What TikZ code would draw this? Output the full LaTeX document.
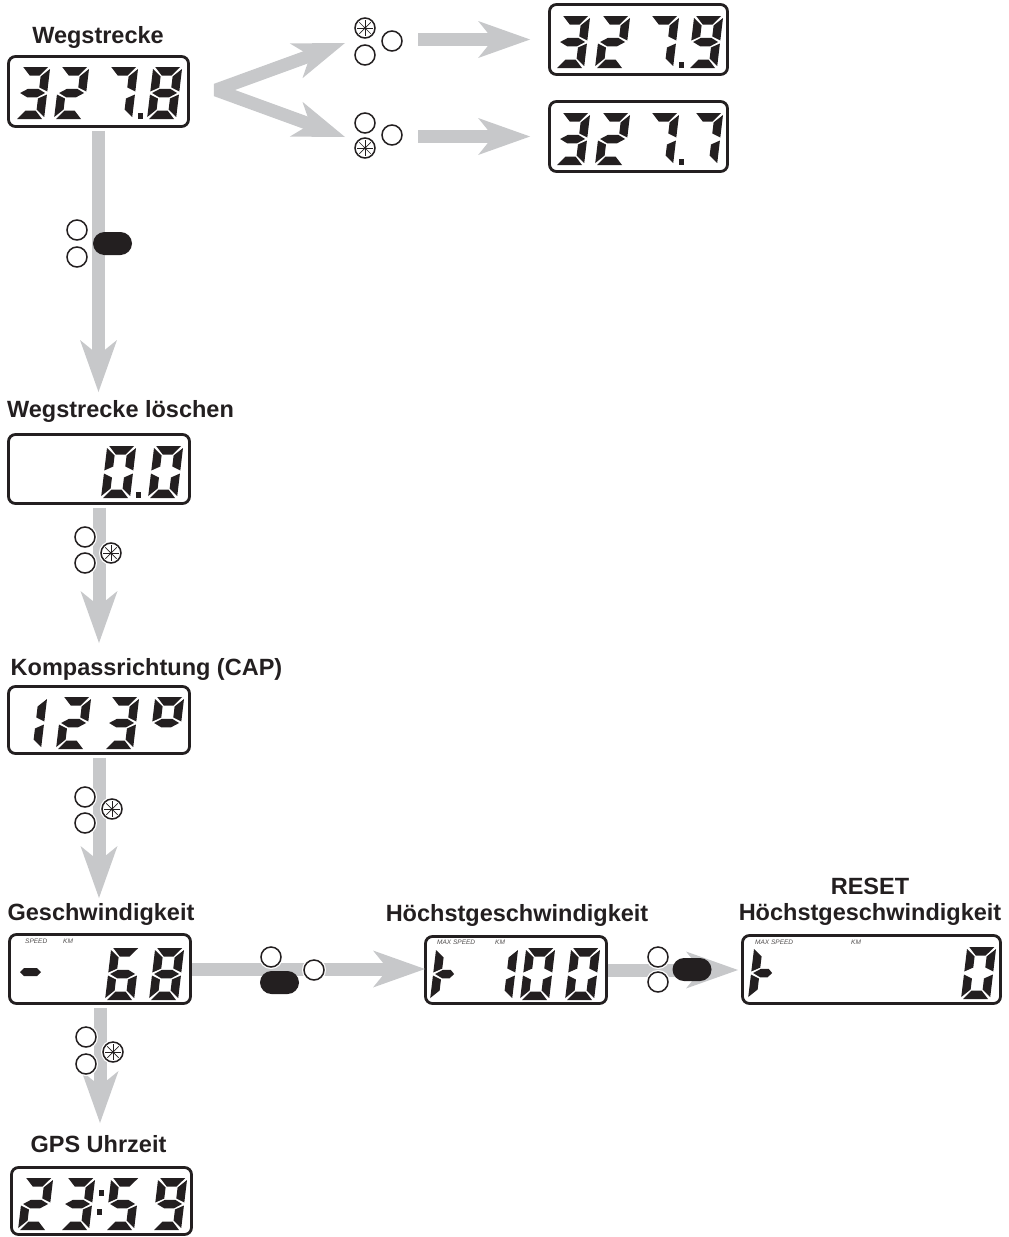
\documentclass[tikz,border=0pt]{standalone}
\usepackage{fontspec}
\setmainfont{Liberation Sans}
\usetikzlibrary{arrows.meta}
\definecolor{ink}{RGB}{35,31,32}
\definecolor{flowgray}{RGB}{199,200,202}
\newcommand{\lcdsega}{(2,52) -- (27,52) -- (19.5,43.5) -- (9.5,43.5) -- cycle}
\newcommand{\lcdsegb}{(29,50) -- (20.5,42.5) -- (20.5,31.5) -- (29,27.5) -- cycle}
\newcommand{\lcdsegc}{(29,24.5) -- (20.5,20.5) -- (20.5,9.5) -- (29,2) -- cycle}
\newcommand{\lcdsegd}{(2,0) -- (27,0) -- (19.5,8.5) -- (9.5,8.5) -- cycle}
\newcommand{\lcdsege}{(0,24.5) -- (8.5,20.5) -- (8.5,9.5) -- (0,2) -- cycle}
\newcommand{\lcdsegf}{(0,50) -- (8.5,42.5) -- (8.5,31.5) -- (0,27.5) -- cycle}
\newcommand{\lcdsegg}{(2,26) -- (9.5,30.25) -- (19.5,30.25) -- (27,26) -- (19.5,21.75) -- (9.5,21.75) -- cycle}
\newcommand{\lcdsegh}{(2,26) -- (9.5,30.25) -- (17,30.25) -- (21,26) -- (17,21.75) -- (9.5,21.75) -- cycle}

\begin{document}
\begin{tikzpicture}[x=1pt,y=-1pt,>={Stealth[length=52pt,width=37pt,inset=15pt,line width=0pt]},
 lcd/.style={draw=ink,line width=2.8pt,rounded corners=7pt,inner sep=0pt},
 lbl/.style={font=\fontsize{23.5}{26}\selectfont\bfseries,text=ink,inner sep=0pt,anchor=base},
 tag/.style={font=\fontsize{6.5}{7}\selectfont\itshape,text=ink!80,inner sep=0pt,anchor=base west},
 flow/.style={draw=flowgray,line width=13pt,->},
 digit/.pic={\begin{scope}[y=1pt,xslant=0.12]\foreach \s in {#1}{\fill[ink] \csname lcdseg\s\endcsname;}\end{scope}},
 ring/.pic={\draw[white,line width=4pt] (0,0) circle (10pt);\draw[ink,line width=1.5pt,fill=white] (0,0) circle (10pt);},
 starring/.pic={\draw[white,line width=4pt] (0,0) circle (10pt);\draw[ink,line width=1.5pt,fill=white] (0,0) circle (10pt);
  \foreach \a in {0,45,90,135}{\draw[ink,line width=0.7pt] (\a:8pt) -- (\a+180:8pt);}\fill[ink] (0,0) circle (1.5pt);},
 pill/.pic={\fill[ink,rounded corners=11.5pt] (-19.5,-11.5) rectangle (19.5,11.5);}]
\useasboundingbox (0,0) rectangle (1009,1237);
\node[lcd,minimum width=180,minimum height=70] (d1) at (98.5,91.5) {};
\node[lcd,minimum width=178,minimum height=70] (d2) at (638.5,39.5) {};
\node[lcd,minimum width=178,minimum height=70] (d3) at (638.5,136.5) {};
\node[lcd,minimum width=181,minimum height=69] (d4) at (99,469) {};
\node[lcd,minimum width=181,minimum height=67] (d5) at (99,720) {};
\node[lcd,minimum width=181,minimum height=69] (d6) at (100,969) {};
\node[lcd,minimum width=181,minimum height=67] (d7) at (516,970) {};
\node[lcd,minimum width=258,minimum height=68] (d8) at (871.5,969.5) {};
\node[lcd,minimum width=180,minimum height=67] (d9) at (101.5,1201) {};
\node[lbl] (l1) at (98,43) {Wegstrecke};
\node[lbl] (l4) at (120.5,417) {Wegstrecke löschen};
\node[lbl] (l5) at (146.5,675) {Kompassrichtung (CAP)};
\node[lbl] (l6) at (101,920) {Geschwindigkeit};
\node[lbl] (l7) at (517,921) {Höchstgeschwindigkeit};
\node[lbl,align=center,anchor=south] (l8) at (870,926) {RESET\\Höchstgeschwindigkeit};
\node[lbl] (l9) at (98.5,1152) {GPS Uhrzeit};
\node[tag] (s6) at (25,943) {SPEED};
\node[tag] (k6) at (63,943) {KM};
\node[tag] (s7) at (437,944) {MAX SPEED};
\node[tag] (k7) at (495,944) {KM};
\node[tag] (s8) at (755,944) {MAX SPEED};
\node[tag] (k8) at (851,944) {KM};
\pic at (15,119) {digit={a,b,g,c,d}};
\pic at (54,119) {digit={a,b,g,e,d}};
\pic at (103,119) {digit={a,b,c}};
\fill[ink] (137.5,113) rectangle (142.5,119);
\pic at (147,119) {digit={a,b,c,d,e,f,g}};
\pic at (555,68) {digit={a,b,g,c,d}};
\pic at (595,68) {digit={a,b,g,e,d}};
\pic at (644,68) {digit={a,b,c}};
\fill[ink] (678.5,62) rectangle (683.5,68);
\pic at (688,68) {digit={a,b,c,d,f,g}};
\pic at (555,165) {digit={a,b,g,c,d}};
\pic at (595,165) {digit={a,b,g,e,d}};
\pic at (644,165) {digit={a,b,c}};
\fill[ink] (678.5,159) rectangle (683.5,165);
\pic at (688,165) {digit={a,b,c}};
\pic at (101,498) {digit={a,b,c,d,e,f}};
\fill[ink] (135.5,492) rectangle (140.5,498);
\pic at (148,498) {digit={a,b,c,d,e,f}};
\pic at (12,749) {digit={b,c}};
\pic at (56,749) {digit={a,b,g,e,d}};
\pic at (104,749) {digit={a,b,g,c,d}};
\pic at (149,749) {digit={a,b,f,g}};
\fill[ink] (20,972) -- (24,968) -- (37,968) -- (41,972) -- (37,976) -- (24,976) -- cycle;
\pic at (105,1000) {digit={a,f,g,e,d,c}};
\pic at (149,1000) {digit={a,b,c,d,e,f,g}};
\pic at (430,1000) {digit={e,f,h}};
\pic at (483,1000) {digit={b,c}};
\pic at (520,1000) {digit={a,b,c,d,e,f}};
\pic at (565,1000) {digit={a,b,c,d,e,f}};
\pic at (748,999) {digit={e,f,h}};
\pic at (961,999) {digit={a,b,c,d,e,f}};
\pic at (18,1230) {digit={a,b,g,e,d}};
\pic at (60,1230) {digit={a,b,g,c,d}};
\fill[ink] (98.5,1190) rectangle (103.5,1196);
\fill[ink] (96.5,1209) rectangle (101.5,1215);
\pic at (105,1230) {digit={a,f,g,c,d}};
\pic at (152,1230) {digit={a,b,c,d,f,g}};
\coordinate (t1) at (98.5,392);
\coordinate (t2) at (99,643);
\coordinate (t3) at (99,898);
\coordinate (t4) at (100,1123);
\coordinate (t5) at (425,969);
\coordinate (t6) at (738,970);
\coordinate (ap) at (216,90);
\coordinate (tu) at (345,43);
\coordinate (td) at (345,137);
\coordinate (h1) at (418,39.5);
\coordinate (h2) at (418,136.5);
\draw[flow,shorten <=3pt] (d1) -- (t1);
\draw[flow,shorten <=3pt] (d4) -- (t2);
\draw[flow,shorten <=3pt] (d5) -- (t3);
\draw[flow,shorten <=3pt] (d6) -- (t4);
\draw[flow] (d6) -- (t5);
\draw[flow] (d7) -- (t6);
\draw[flow,<->,line join=bevel] (tu) -- (ap) -- (td);
\draw[flow,shorten >=18pt] (h1) -- (d2);
\draw[flow,shorten >=18pt] (h2) -- (d3);
\pic at (365,28) {starring};
\pic at (365,55) {ring};
\pic at (392,41) {ring};
\pic at (365,123) {ring};
\pic at (365,148) {starring};
\pic at (392,135) {ring};
\pic at (77,230) {ring};
\pic at (77,257) {ring};
\pic at (112.5,243.5) {pill};
\pic at (85,537) {ring};
\pic at (85,563) {ring};
\pic at (111,553) {starring};
\pic at (85,797) {ring};
\pic at (85,823) {ring};
\pic at (112,809) {starring};
\pic at (86,1037) {ring};
\pic at (86,1064) {ring};
\pic at (113,1052) {starring};
\pic at (279.5,982.5) {pill};
\pic at (271,957) {ring};
\pic at (314,970) {ring};
\pic at (692,969.5) {pill};
\pic at (658,957) {ring};
\pic at (658,982) {ring};
\end{tikzpicture}
\end{document}
